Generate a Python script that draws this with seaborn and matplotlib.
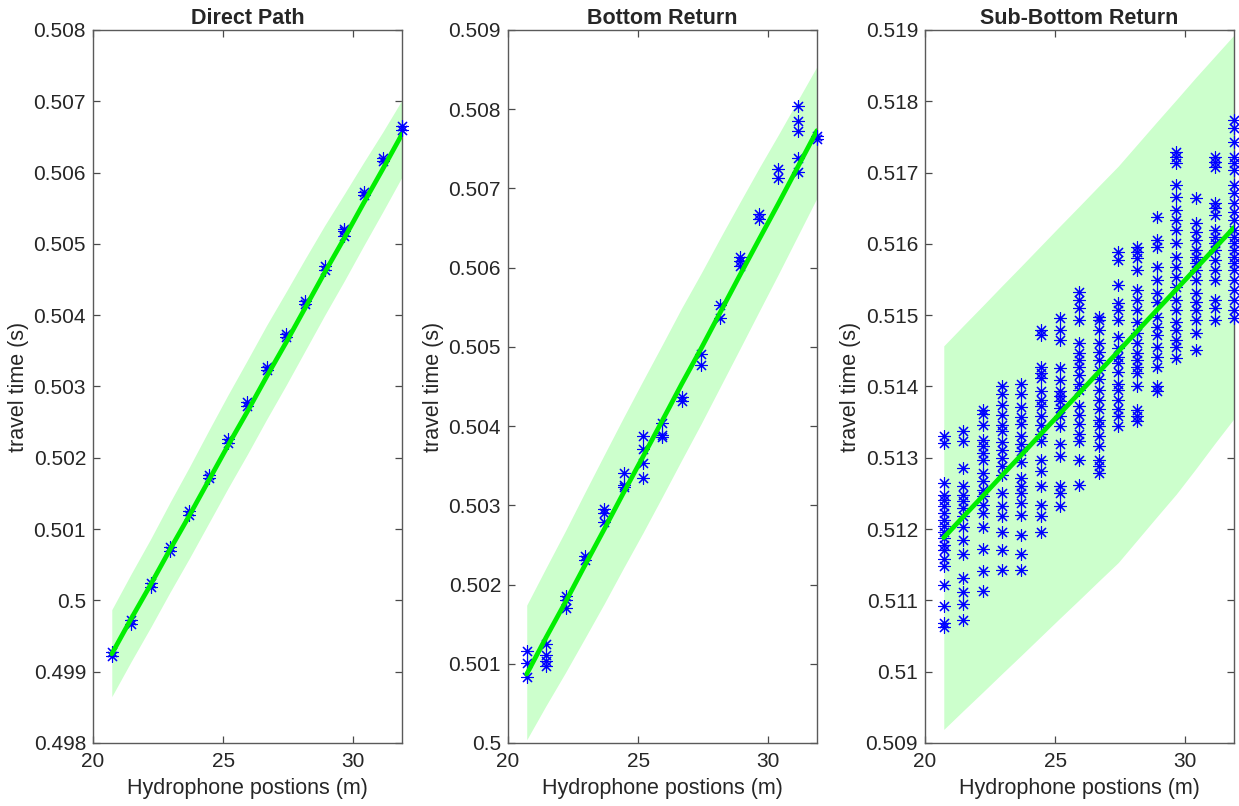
import numpy as np
import pandas as pd
import matplotlib
matplotlib.use("Agg")
import matplotlib.pyplot as plt
from matplotlib.ticker import MultipleLocator, FuncFormatter
import seaborn as sns

# ---------------- data ----------------
positions = [20.72, 21.46, 22.21, 22.95, 23.70, 24.44, 25.18, 25.93,
             26.67, 27.42, 28.16, 28.90, 29.65, 30.39, 31.13, 31.87]

titles = ["Direct Path", "Bottom Return", "Sub-Bottom Return"]
x_label = "Hydrophone postions (m)"
y_label = "travel time (s)"
x_ticks = [20, 25, 30]
y_limits = [(0.498, 0.508), (0.500, 0.509), (0.509, 0.519)]

direct_times = [
    [0.49922, 0.49928], [0.49967, 0.49972], [0.50019, 0.50024], [0.50069, 0.50075],
    [0.50120, 0.50126], [0.50171, 0.50176], [0.50221, 0.50226], [0.50272, 0.50278],
    [0.50323, 0.50328], [0.50369, 0.50374], [0.50415, 0.50420], [0.50464, 0.50469],
    [0.50511, 0.50518, 0.50521], [0.50568, 0.50573], [0.50616, 0.50621], [0.50660, 0.50666],
]
direct_fit = [0.49925, 0.49974, 0.50022, 0.50071, 0.50119, 0.50168, 0.50217, 0.50265,
              0.50314, 0.50362, 0.50411, 0.50460, 0.50508, 0.50557, 0.50605, 0.50654]
direct_upper = [0.49987, 0.50037, 0.50086, 0.50137, 0.50187, 0.50238, 0.50288, 0.50337,
                0.50386, 0.50433, 0.50480, 0.50526, 0.50570, 0.50614, 0.50657, 0.50702]
direct_lower = [0.49865, 0.49914, 0.49962, 0.50011, 0.50059, 0.50108, 0.50157, 0.50205,
                0.50254, 0.50302, 0.50351, 0.50400, 0.50448, 0.50497, 0.50545, 0.50594]

bottom_times = [
    [0.50116, 0.50101, 0.50083], [0.50125, 0.50111, 0.50104, 0.50097],
    [0.50186, 0.50180, 0.50170], [0.50236, 0.50231],
    [0.50295, 0.50290, 0.50279], [0.50341, 0.50326, 0.50323],
    [0.50387, 0.50371, 0.50353, 0.50335], [0.50404, 0.50389, 0.50386],
    [0.50437, 0.50432], [0.50491, 0.50477],
    [0.50553, 0.50536], [0.50614, 0.50608, 0.50602],
    [0.50668, 0.50661], [0.50725, 0.50713],
    [0.50804, 0.50785, 0.50772, 0.50739, 0.50721], [0.50766, 0.50762],
]
bottom_fit = [0.50087, 0.50133, 0.50178, 0.50224, 0.50270, 0.50316, 0.50361, 0.50407,
              0.50453, 0.50498, 0.50544, 0.50590, 0.50636, 0.50681, 0.50727, 0.50773]
bottom_upper = [0.50174, 0.50221, 0.50268, 0.50316, 0.50364, 0.50411, 0.50457, 0.50503,
                0.50549, 0.50593, 0.50638, 0.50682, 0.50726, 0.50768, 0.50811, 0.50854]
bottom_lower = [0.50004, 0.50047, 0.50089, 0.50132, 0.50176, 0.50221, 0.50265, 0.50311,
                0.50357, 0.50403, 0.50450, 0.50497, 0.50545, 0.50592, 0.50640, 0.50688]

subbottom_times = [
    [0.51330, 0.51321, 0.51265, 0.51248, 0.51241, 0.51232, 0.51222, 0.51213, 0.51205, 0.51196,
     0.51188, 0.51178, 0.51170, 0.51158, 0.51148, 0.51122, 0.51092, 0.51068, 0.51062],
    [0.51337, 0.51323, 0.51285, 0.51260, 0.51248, 0.51239, 0.51229, 0.51218, 0.51203, 0.51185,
     0.51165, 0.51132, 0.51112, 0.51095, 0.51072],
    [0.51367, 0.51361, 0.51346, 0.51325, 0.51316, 0.51306, 0.51297, 0.51278, 0.51267, 0.51255,
     0.51246, 0.51234, 0.51222, 0.51203, 0.51172, 0.51141, 0.51113],
    [0.51400, 0.51390, 0.51374, 0.51360, 0.51346, 0.51337, 0.51322, 0.51311, 0.51299, 0.51288,
     0.51276, 0.51250, 0.51232, 0.51218, 0.51196, 0.51170, 0.51143],
    [0.51404, 0.51390, 0.51371, 0.51357, 0.51348, 0.51330, 0.51320, 0.51309, 0.51294, 0.51271,
     0.51260, 0.51250, 0.51236, 0.51220, 0.51192, 0.51165, 0.51142],
    [0.51479, 0.51472, 0.51428, 0.51419, 0.51412, 0.51393, 0.51381, 0.51372, 0.51358, 0.51346,
     0.51334, 0.51323, 0.51297, 0.51281, 0.51260, 0.51234, 0.51219, 0.51196],
    [0.51496, 0.51479, 0.51465, 0.51426, 0.51409, 0.51393, 0.51386, 0.51379, 0.51370, 0.51358,
     0.51344, 0.51320, 0.51302, 0.51260, 0.51250, 0.51232],
    [0.51533, 0.51521, 0.51510, 0.51493, 0.51461, 0.51447, 0.51437, 0.51428, 0.51416, 0.51404,
     0.51395, 0.51372, 0.51360, 0.51348, 0.51334, 0.51323, 0.51297, 0.51262],
    [0.51498, 0.51493, 0.51479, 0.51461, 0.51449, 0.51437, 0.51423, 0.51411, 0.51395, 0.51381,
     0.51369, 0.51353, 0.51344, 0.51330, 0.51316, 0.51297, 0.51288, 0.51278],
    [0.51589, 0.51577, 0.51542, 0.51517, 0.51507, 0.51493, 0.51470, 0.51454, 0.51442, 0.51433,
     0.51421, 0.51404, 0.51395, 0.51381, 0.51369, 0.51358, 0.51344],
    [0.51596, 0.51589, 0.51580, 0.51563, 0.51535, 0.51521, 0.51507, 0.51491, 0.51475, 0.51461,
     0.51447, 0.51437, 0.51428, 0.51419, 0.51400, 0.51367, 0.51358, 0.51351],
    [0.51638, 0.51605, 0.51596, 0.51568, 0.51549, 0.51531, 0.51519, 0.51498, 0.51484, 0.51472,
     0.51456, 0.51442, 0.51428, 0.51400, 0.51393],
    [0.51729, 0.51722, 0.51713, 0.51682, 0.51666, 0.51647, 0.51633, 0.51619, 0.51601, 0.51582,
     0.51568, 0.51554, 0.51540, 0.51521, 0.51507, 0.51491, 0.51479, 0.51465, 0.51456, 0.51440],
    [0.51664, 0.51629, 0.51617, 0.51605, 0.51591, 0.51582, 0.51573, 0.51563, 0.51549, 0.51531,
     0.51519, 0.51507, 0.51493, 0.51475, 0.51451],
    [0.51722, 0.51715, 0.51708, 0.51657, 0.51650, 0.51640, 0.51619, 0.51610, 0.51601, 0.51591,
     0.51577, 0.51563, 0.51549, 0.51521, 0.51510, 0.51493],
    [0.51774, 0.51762, 0.51743, 0.51722, 0.51713, 0.51704, 0.51682, 0.51671, 0.51657, 0.51645,
     0.51633, 0.51619, 0.51610, 0.51601, 0.51591, 0.51582, 0.51573, 0.51563, 0.51549, 0.51535,
     0.51521, 0.51507, 0.51496],
]
subbottom_fit = [0.51188, 0.51217, 0.51246, 0.51275, 0.51304, 0.51333, 0.51362, 0.51391,
                 0.51420, 0.51449, 0.51478, 0.51507, 0.51536, 0.51565, 0.51594, 0.51623]
subbottom_upper = [0.51457, 0.51485, 0.51513, 0.51541, 0.51569, 0.51597, 0.51625, 0.51653,
                   0.51681, 0.51709, 0.51740, 0.51771, 0.51802, 0.51833, 0.51863, 0.51893]
subbottom_lower = [0.50919, 0.50945, 0.50971, 0.50997, 0.51023, 0.51049, 0.51075, 0.51101,
                   0.51127, 0.51153, 0.51185, 0.51217, 0.51249, 0.51284, 0.51320, 0.51355]

# ---------------- style ----------------
sns.set_theme(style="white")
plt.rcParams["font.family"] = ["Liberation Sans", "DejaVu Sans"]

AX_COLOR = "#262626"
BAND = "#ccffcc"
LINE = "#00ee00"
STAR = "#0000ff"
FS = 15

fig = plt.figure(figsize=(12.39, 8.06), dpi=100)
lefts = [0.0751, 0.4100, 0.7466]
width = 0.2494
bottom = 0.0782
height = 0.8846

panels = [
    (direct_times, direct_fit, direct_upper, direct_lower),
    (bottom_times, bottom_fit, bottom_upper, bottom_lower),
    (subbottom_times, subbottom_fit, subbottom_upper, subbottom_lower),
]

fmt = FuncFormatter(lambda v, p: "%g" % round(v, 6))

for i, (times, fit, upper, lower) in enumerate(panels):
    ax = fig.add_axes([lefts[i], bottom, width, height])
    pts = pd.DataFrame(
        [(positions[k], t) for k, col in enumerate(times) for t in col],
        columns=["position", "time"],
    )
    curve = pd.DataFrame({"position": positions, "fit": fit,
                          "upper": upper, "lower": lower})

    ax.fill_between(curve["position"], curve["lower"], curve["upper"],
                    color=BAND, linewidth=0, zorder=1)
    sns.scatterplot(data=pts, x="position", y="time", ax=ax,
                    marker=(8, 2, 0), s=75, color=STAR, linewidth=0.8,
                    clip_on=False, zorder=3, legend=False)
    sns.lineplot(data=curve, x="position", y="fit", ax=ax,
                 color=LINE, linewidth=3.4, zorder=4, legend=False)

    ax.set_xlim(20, positions[-1])
    ax.set_ylim(*y_limits[i])
    ax.set_xticks(x_ticks)
    ax.yaxis.set_major_locator(MultipleLocator(0.001))
    ax.yaxis.set_major_formatter(fmt)
    ax.tick_params(direction="in", length=5, width=0.9, top=True, right=True,
                   bottom=True, left=True, colors="#4a4a4a",
                   labelcolor=AX_COLOR, labelsize=FS)
    ax.tick_params(axis="x", pad=6.5)
    ax.tick_params(axis="y", pad=5)
    for sp in ax.spines.values():
        sp.set_visible(True)
        sp.set_color("#5a5a5a")
        sp.set_linewidth(1.0)
    ax.set_xlabel(x_label, fontsize=FS + 0.5, color=AX_COLOR, labelpad=5)
    ax.set_ylabel(y_label, fontsize=FS + 0.5, color=AX_COLOR, labelpad=3)
    ax.set_title(titles[i], fontsize=FS + 0.5, fontweight="bold", color=AX_COLOR, pad=4)
    ax.set_facecolor("white")

fig.savefig("out.png", dpi=100, facecolor="white")
